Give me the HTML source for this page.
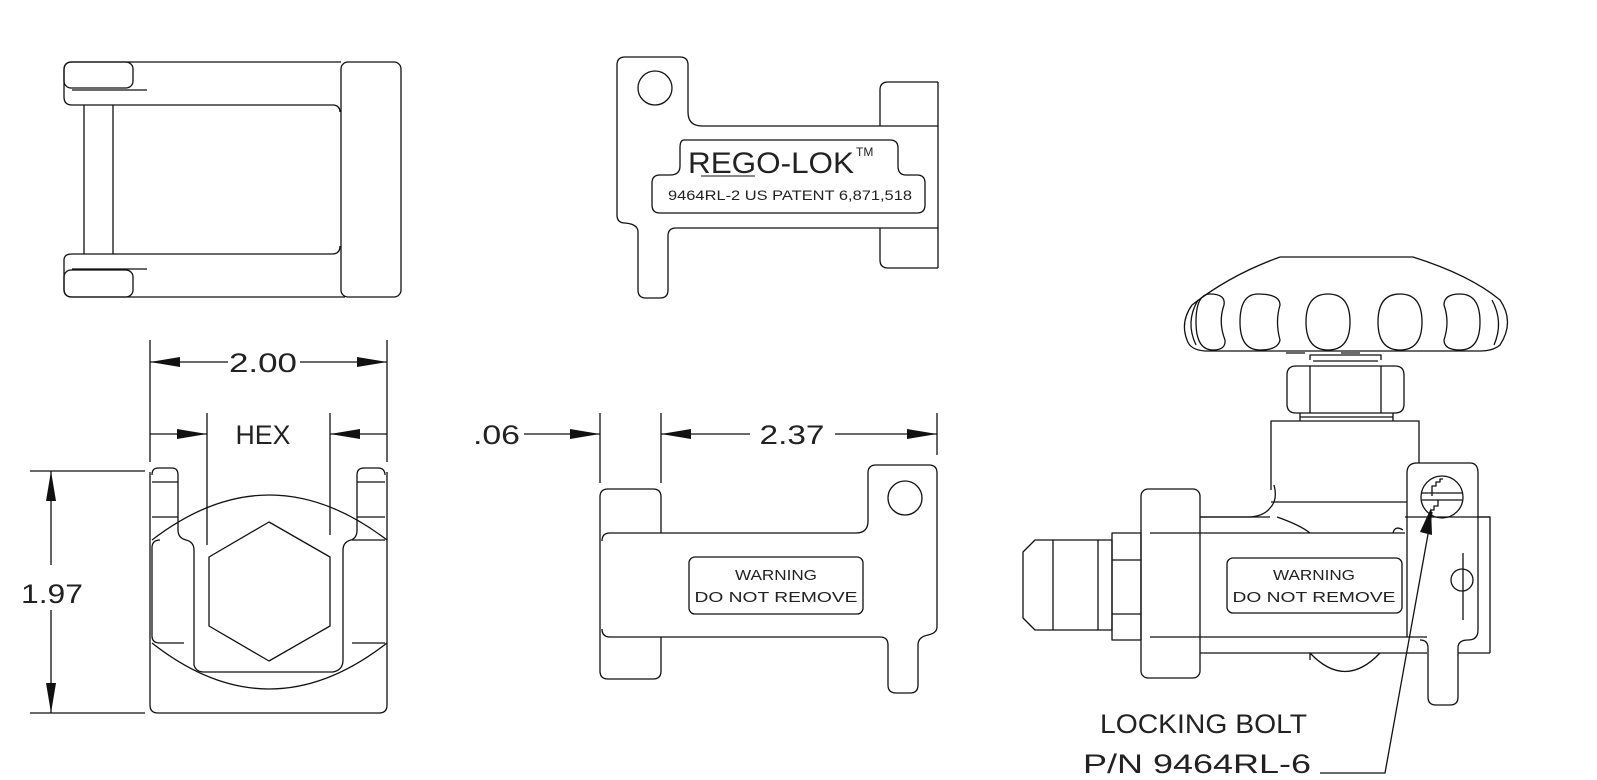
<!DOCTYPE html>
<html><head><meta charset="utf-8"><style>
html,body{margin:0;padding:0;background:#fff}
svg{display:block}
text{font-family:"Liberation Sans",sans-serif;fill:#222}
</style></head><body>
<svg width="1597" height="780" viewBox="0 0 1597 780" xmlns="http://www.w3.org/2000/svg">
<g fill="none" stroke="#111" stroke-width="1.3" stroke-linejoin="round">
<!-- TOP LEFT VIEW -->
<rect x="341" y="62" width="60" height="235" rx="7"/>
<path d="M341 62 H72 Q64 62 64 70 V97 Q64 105 72 105 H334 Q340 106 340 112"/>
<rect x="64" y="62" width="69" height="26" rx="7"/>
<line x1="72" y1="90" x2="147" y2="90"/>
<line x1="84" y1="105" x2="84" y2="254"/>
<line x1="113" y1="105" x2="113" y2="254"/>
<path d="M340 246 Q340 254 332 254 H72 Q64 254 64 260 V289 Q64 297 72 297 H345"/>
<rect x="64" y="270" width="69" height="27" rx="7"/>
<line x1="72" y1="269" x2="147" y2="269"/>

<!-- BOTTOM LEFT VIEW -->
<line x1="150" y1="340" x2="150" y2="462"/>
<line x1="387" y1="340" x2="387" y2="462"/>
<line x1="150" y1="362" x2="228" y2="362"/>
<line x1="300" y1="362" x2="387" y2="362"/>
<line x1="207" y1="413" x2="207" y2="545"/>
<line x1="330" y1="413" x2="330" y2="535"/>
<line x1="150" y1="434" x2="207" y2="434"/>
<line x1="330" y1="434" x2="387" y2="434"/>
<line x1="30" y1="471" x2="145" y2="471"/>
<line x1="30" y1="713" x2="145" y2="713"/>
<line x1="51" y1="471" x2="51" y2="565"/>
<line x1="51" y1="610" x2="51" y2="713"/>
<path d="M150 472 V705 Q150 713 158 713 H379 Q387 713 387 705 V472"/>
<path d="M152 540 Q269 450 387 540"/>
<path d="M152 643 Q269 735 387 643"/>
<path d="M160 540 Q152 540 152 548 V636 Q152 643 160 643 H184"/>
<path d="M152 475 Q152 468 158 468 H172 Q178 468 178 475 V530 Q178 538 186 540 Q194 542 194 550 V665 Q196 672 204 672 H333 Q343 670 343 660 V550 Q343 542 351 540 Q357 538 357 530 V475 Q357 468 364 468 H378 Q385 468 385 475"/>
<path d="M385 540 H352 M385 643 H352"/>
<path d="M152 482 H178 M152 517 H178 M357 482 H385 M357 517 H385"/>
<polygon points="269,522 330,557 330,626 269,661 209,626 209,557"/>

<!-- TOP MIDDLE VIEW -->
<path d="M617 65 Q617 57 625 57 H680 Q688 57 688 65 V112 Q688 126 702 126 H938"/>
<path d="M617 65 V215 Q617 223 625 223 Q638 224 638 232 V290 Q638 298 646 298 H660 Q668 298 668 290 V236 Q668 228 676 228 H938"/>
<circle cx="655" cy="88" r="17"/>
<path d="M938 82 H888 Q880 82 880 90 V126"/>
<path d="M938 82 Q938 82 938 268 M938 268 H888 Q880 268 880 260 V228"/>
<path d="M684 140 Q680 140 680 148 V166 Q680 175 670 175 H660 Q652 175 652 183 V205 Q652 213 660 213 H917 Q925 213 925 205 V183 Q925 175 917 175 H906 Q898 175 898 166 V148 Q898 140 890 140 Z"/>

<!-- BOTTOM MIDDLE VIEW -->
<line x1="600" y1="413" x2="600" y2="483"/>
<line x1="661" y1="413" x2="661" y2="483"/>
<line x1="937" y1="413" x2="937" y2="455"/>
<line x1="524" y1="434" x2="600" y2="434"/>
<line x1="661" y1="434" x2="750" y2="434"/>
<line x1="835" y1="434" x2="937" y2="434"/>
<path d="M608 489 H653 Q661 489 661 497 V533"/>
<path d="M608 489 Q600 489 600 497 V671 Q600 679 608 679 H653 Q661 679 661 671 V637"/>
<path d="M602 541 Q602 533 610 533 H856 Q868 533 868 521 V473 Q868 465 876 465 H929 Q937 465 937 473 V627 Q937 633 928 635 Q918 637 918 645 V685 Q918 693 910 693 H896 Q888 693 888 685 V645 Q888 637 880 637 H610 Q602 637 602 629"/>
<circle cx="905" cy="498" r="17"/>
<rect x="689" y="557" width="174" height="57" rx="6"/>

<!-- RIGHT VIEW -->
<path d="M1280 257 H1413 Q1470 275 1500 300 Q1515 322 1500 345 Q1493 351 1480 351 H1205 Q1190 350 1187 340 Q1180 322 1192 305 Q1230 275 1280 257"/>
<path d="M1198 300 Q1185 322 1196 345"/>
<path d="M1492 300 Q1504 322 1494 345"/>
<path d="M1210 294 Q1226 294 1224 305 Q1218 322 1225 340 Q1226 350 1213 350 Q1196 350 1196 322 Q1196 294 1210 294 Z"/>
<path d="M1258 294 Q1280 294 1280 305 Q1275 322 1280 340 Q1278 350 1260 350 Q1240 350 1240 322 Q1240 294 1258 294 Z"/>
<path d="M1306 322 Q1306 294 1328 294 Q1350 294 1350 322 Q1350 350 1328 350 Q1306 350 1306 322 Z"/>
<path d="M1378 322 Q1378 294 1400 294 Q1422 294 1422 322 Q1422 350 1400 350 Q1378 350 1378 322 Z"/>
<path d="M1460 294 Q1480 294 1480 322 Q1480 350 1460 350 Q1444 350 1444 340 Q1450 322 1444 305 Q1444 294 1460 294 Z"/>
<path d="M1310 360 V355 H1381 V360 M1313 361 H1378"/>
<line x1="1286" y1="353" x2="1305" y2="353"/>
<line x1="1341" y1="353" x2="1360" y2="353"/>
<path d="M1303 366 H1395 Q1404 366 1404 375 V404 Q1404 413 1395 413 H1296 Q1287 413 1287 404 V375 Q1287 366 1296 366 Z"/>
<line x1="1310" y1="366" x2="1310" y2="413"/>
<line x1="1381" y1="366" x2="1381" y2="413"/>
<path d="M1300 413 V421 M1393 413 V421 M1300 417 H1393"/>
<path d="M1271 490 V421 H1419 V463"/>
<line x1="1271" y1="502" x2="1407" y2="502"/>
<path d="M1274 485 Q1278 500 1270 508 Q1264 516 1250 517 H1200"/>
<path d="M1200 517 H1270 M1405 517 H1490"/>
<path d="M1277 517 Q1300 525 1310 533"/>
<path d="M1403 530 Q1395 525 1393 533"/>
<path d="M1150 533 H1405 M1150 637 H1427 M1200 653 H1427 M1458 653 H1490"/>
<path d="M1478 517 H1490 V653"/>
<rect x="1141" y="489" width="59" height="189" rx="7"/>
<rect x="1143" y="533" width="62" height="104" rx="6" stroke="none"/>
<path d="M1112 533 H1141 V640 H1112 Z M1112 560 H1141 M1112 614 H1141"/>
<path d="M1035 540 H1112 V630 H1035 L1023 618 V552 Z M1053 540 V630 M1098 540 V630"/>
<rect x="1227" y="558" width="175" height="55" rx="6"/>
<path d="M1310 653 Q1345 690 1380 653 M1310 653 V660"/>
<path d="M1407 637 V473 Q1407 463 1417 463 H1470 Q1478 463 1478 473 V630 Q1478 640 1468 640 Q1458 640 1458 648 V697 Q1458 705 1450 705 H1436 Q1428 705 1428 697 V648 Q1428 640 1420 640"/>
<circle cx="1442" cy="497" r="21"/>
<path d="M1422 493 H1462 M1422 500 H1462"/>
<path d="M1432 496 V486 H1436 V482 H1440 V479 H1443 M1438 500 V506 H1434 V510 H1431 V513"/>
<circle cx="1462" cy="580" r="11"/>
<line x1="1463" y1="553" x2="1463" y2="620"/>
<polyline points="1432,512 1385,773 1320,773"/>
</g>

<!-- arrowheads -->
<g fill="#111">
<polygon points="150,362 180,357 180,367"/>
<polygon points="387,362 357,357 357,367"/>
<polygon points="207,434 177,429 177,439"/>
<polygon points="330,434 360,429 360,439"/>
<polygon points="51,471 46,501 56,501"/>
<polygon points="51,713 46,683 56,683"/>
<polygon points="600,434 570,429 570,439"/>
<polygon points="661,434 691,429 691,439"/>
<polygon points="937,434 907,429 907,439"/>
<polygon points="1431,508 1420,532 1432,535"/>
</g>

<g>
<text x="263" y="372" font-size="27" text-anchor="middle" textLength="68" lengthAdjust="spacingAndGlyphs">2.00</text>
<text x="263" y="444" font-size="27" text-anchor="middle" textLength="55" lengthAdjust="spacingAndGlyphs">HEX</text>
<text x="52" y="603" font-size="27" text-anchor="middle" textLength="62" lengthAdjust="spacingAndGlyphs">1.97</text>
<text x="473" y="444" font-size="27" textLength="47" lengthAdjust="spacingAndGlyphs">.06</text>
<text x="792" y="444" font-size="27" text-anchor="middle" textLength="65" lengthAdjust="spacingAndGlyphs">2.37</text>
<text x="688" y="173" font-size="30" textLength="166" lengthAdjust="spacingAndGlyphs">REGO-LOK</text>
<text x="856" y="156" font-size="12">TM</text>
<line x1="701" y1="176" x2="755" y2="176" stroke="#111" stroke-width="1"/>
<text x="668" y="200" font-size="14" textLength="244" lengthAdjust="spacingAndGlyphs">9464RL-2 US PATENT 6,871,518</text>
<text x="776" y="580" font-size="15" text-anchor="middle" textLength="82" lengthAdjust="spacingAndGlyphs">WARNING</text>
<text x="776" y="602" font-size="15" text-anchor="middle" textLength="163" lengthAdjust="spacingAndGlyphs">DO NOT REMOVE</text>
<text x="1314" y="580" font-size="15" text-anchor="middle" textLength="82" lengthAdjust="spacingAndGlyphs">WARNING</text>
<text x="1314" y="602" font-size="15" text-anchor="middle" textLength="163" lengthAdjust="spacingAndGlyphs">DO NOT REMOVE</text>
<text x="1100" y="733" font-size="27" textLength="207" lengthAdjust="spacingAndGlyphs">LOCKING BOLT</text>
<text x="1083" y="773" font-size="27" textLength="228" lengthAdjust="spacingAndGlyphs">P/N 9464RL-6</text>
</g>
</svg>
</body></html>
